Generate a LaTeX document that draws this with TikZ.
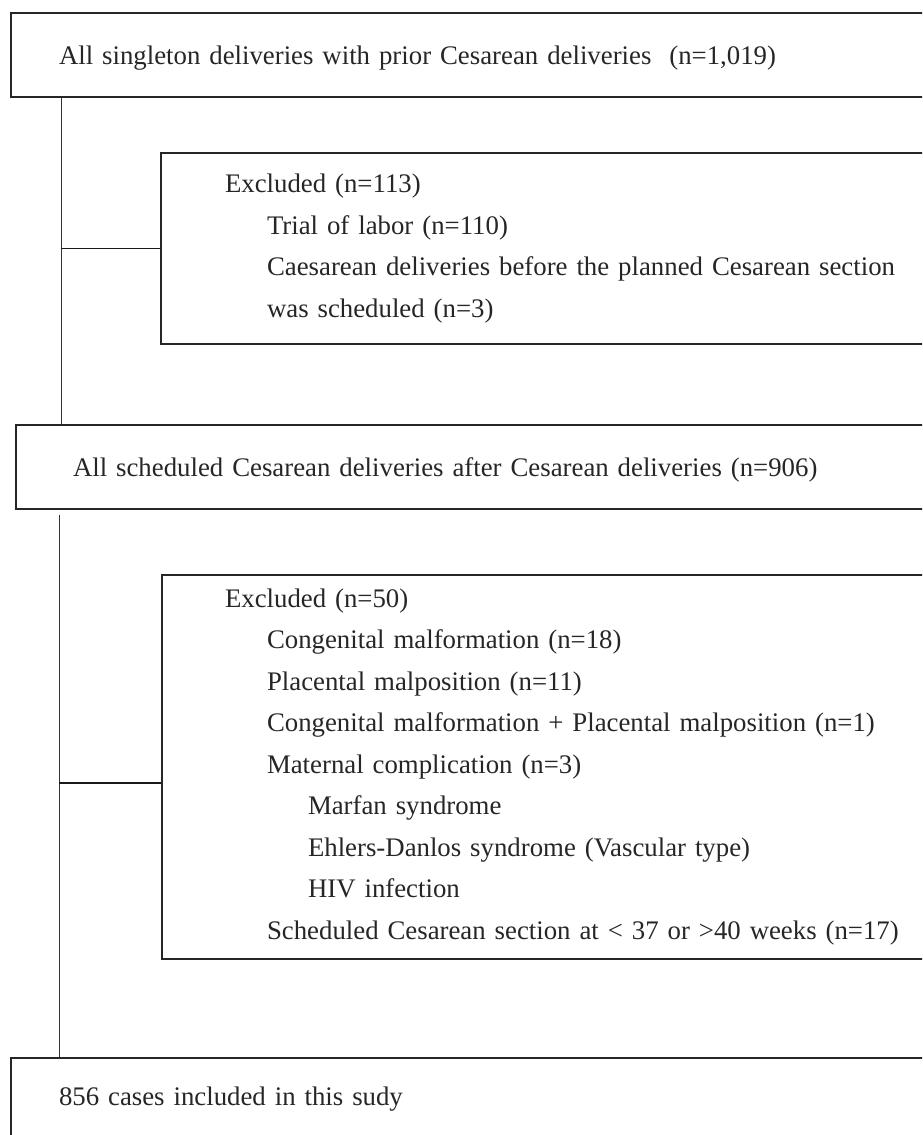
\documentclass[tikz,border=0pt]{standalone}
\usepackage{fontspec}
\setmainfont{Liberation Serif}
\usetikzlibrary{positioning}

\begin{document}
\begin{tikzpicture}[x=0.5pt, y=-0.5pt,
	box/.style={draw=black!85, line width=1pt, anchor=north west, inner ysep=0pt, align=left, text=black!85, font=\fontsize{13.4}{20.75}\selectfont},
	vline/.style={draw=black!80, line width=0.5pt},
	hline/.style={draw=black!90, line width=0.9pt}]
	\useasboundingbox (0,0) rectangle (922,1135);
	\clip (0,0) rectangle (922,1135);
	\node[box, minimum width=495pt, minimum height=42pt, inner xsep=24pt, text width=447pt, text depth=0pt] (b1) at (10,12) {All singleton deliveries with prior Cesarean deliveries\ \ (n=1,019)};
	\node[box, minimum width=420pt, minimum height=95.5pt, inner xsep=32pt, text width=356pt] (b2) at (160,152) {Excluded (n=113)\\
		\hspace*{21pt}Trial of labor (n=110)\\
		\hspace*{21pt}Caesarean deliveries before the planned Cesarean section\\
		\hspace*{21pt}was scheduled (n=3)};
	\node[box, minimum width=492.5pt, minimum height=42pt, inner xsep=28.5pt, text width=435.5pt, text depth=0pt] (b3) at (15,424) {All scheduled Cesarean deliveries after Cesarean deliveries (n=906)};
	\node[box, minimum width=419.5pt, minimum height=192pt, inner xsep=31.5pt, text width=356.5pt] (b4) at (161,574) {Excluded (n=50)\\
		\hspace*{21pt}Congenital malformation (n=18)\\
		\hspace*{21pt}Placental malposition (n=11)\\
		\hspace*{21pt}Congenital malformation + Placental malposition (n=1)\\
		\hspace*{21pt}Maternal complication (n=3)\\
		\hspace*{41.5pt}Marfan syndrome\\
		\hspace*{41.5pt}Ehlers-Danlos syndrome (Vascular type)\\
		\hspace*{41.5pt}HIV infection\\
		\hspace*{21pt}Scheduled Cesarean section at < 37 or >40 weeks (n=17)};
	\node[box, minimum width=495pt, minimum height=41.5pt, inner xsep=24pt, text width=447pt] (b5) at (10,1057) {856 cases included in this sudy};
	\coordinate[left=49.5pt of b2.west] (j1);
	\coordinate (j2) at (59,783);
	\draw[vline] (b1.south -| j1) -- (b3.north -| j1);
	\draw[hline] (j1) -- (b2.west);
	\draw[vline] ([yshift=-2.5pt]b3.south -| j2) -- (b5.north -| j2);
	\draw[hline] (j2) -- (b4.west |- j2);
\end{tikzpicture}
\end{document}
